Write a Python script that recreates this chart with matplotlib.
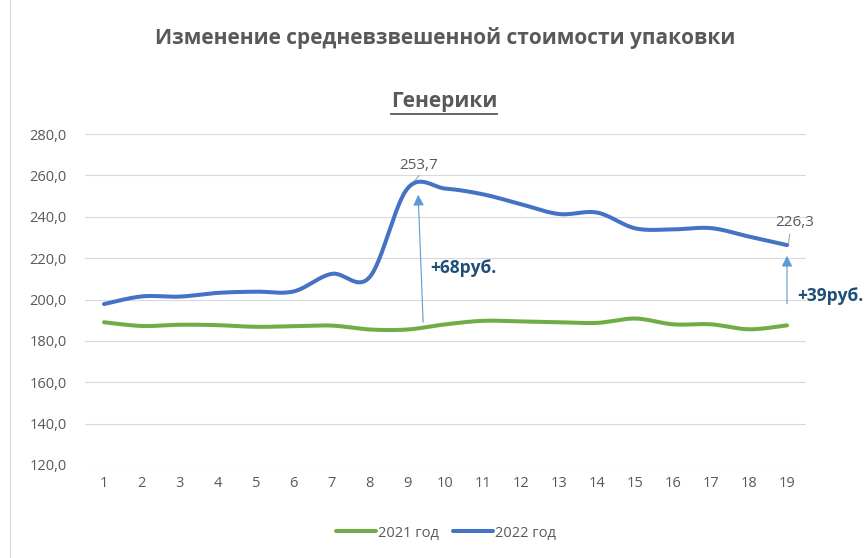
import numpy as np
import matplotlib
matplotlib.use("Agg")
import matplotlib.pyplot as plt
from matplotlib.lines import Line2D

plt.rcParams['font.family'] = ['Open Sans', 'DejaVu Sans']

months = list(range(1, 20))
v2021 = [189.0, 187.2, 187.8, 187.6, 186.8, 187.1, 187.4, 185.5, 185.5, 188.0,
         189.7, 189.4, 189.0, 188.7, 190.8, 188.0, 188.0, 185.6, 187.5]
v2022 = [197.8, 201.5, 201.4, 203.2, 203.8, 203.9, 212.4, 210.8, 253.7, 253.6,
         250.8, 246.0, 241.3, 242.0, 234.4, 233.9, 234.5, 230.4, 226.3]
series_labels = ['2021 год', '2022 год']
yticks = [120, 140, 160, 180, 200, 220, 240, 260, 280]
title = 'Изменение средневзвешенной стоимости упаковки'
subtitle = 'Генерики'
diff_labels = ['+68руб.', '+39руб.']

GREEN = '#70AD47'
BLUE = '#4472C4'
GRAY = '#595959'
ARROW = '#5B9BD5'
DARKBLUE = '#1F4E79'


def smooth(xs, ys, n=30):
    xs = np.asarray(xs, float)
    ys = np.asarray(ys, float)
    ox, oy = [], []
    m = len(xs)
    t = np.linspace(0, 1, n)
    for i in range(m - 1):
        p0x, p0y = (xs[i - 1], ys[i - 1]) if i > 0 else (xs[i], ys[i])
        p3x, p3y = (xs[i + 2], ys[i + 2]) if i + 2 < m else (xs[i + 1], ys[i + 1])
        c1x = xs[i] + (xs[i + 1] - p0x) / 6
        c1y = ys[i] + (ys[i + 1] - p0y) / 6
        c2x = xs[i + 1] - (p3x - xs[i]) / 6
        c2y = ys[i + 1] - (p3y - ys[i]) / 6
        bx = ((1 - t) ** 3) * xs[i] + 3 * ((1 - t) ** 2) * t * c1x + 3 * (1 - t) * t ** 2 * c2x + t ** 3 * xs[i + 1]
        by = ((1 - t) ** 3) * ys[i] + 3 * ((1 - t) ** 2) * t * c1y + 3 * (1 - t) * t ** 2 * c2y + t ** 3 * ys[i + 1]
        ox.extend(bx if i == 0 else bx[1:])
        oy.extend(by if i == 0 else by[1:])
    return np.array(ox), np.array(oy)


fig = plt.figure(figsize=(8.66, 5.58), dpi=100)
ax = fig.add_axes([85 / 866, 1 - 465 / 558, (806 - 85) / 866, (465 - 134) / 558])

sx, sy = smooth(months, v2021)
ax.plot(sx, sy, color=GREEN, lw=2.9, solid_capstyle='round', label=series_labels[0], zorder=3)
sx, sy = smooth(months, v2022)
ax.plot(sx, sy, color=BLUE, lw=2.9, solid_capstyle='round', label=series_labels[1], zorder=3)

ax.set_xlim(0.5, 19.5)
ax.set_ylim(120, 280)
ax.set_xticks(months)
ax.set_xticklabels([str(m) for m in months])
ax.set_yticks(yticks)
ax.set_yticklabels([f'{v:.1f}'.replace('.', ',') for v in yticks])
ax.tick_params(axis='both', length=0, labelsize=10.5, colors=GRAY)
ax.tick_params(axis='y', pad=13)
ax.tick_params(axis='x', pad=8)
ax.grid(axis='y', color='#D9D9D9', lw=0.8)
ax.set_axisbelow(True)
for s in ax.spines.values():
    s.set_visible(False)

# data labels
ax.text(9.28, 265.0, f'{v2022[8]:.1f}'.replace('.', ','), ha='center', va='center',
        fontsize=11, color=GRAY)
ax.plot([9.30, 9.06], [259.8, 254.6], color='#A6A6A6', lw=0.8)
ax.text(19.19, 237.2, f'{v2022[18]:.1f}'.replace('.', ','), ha='center', va='center',
        fontsize=11, color=GRAY, clip_on=False)
ax.plot([19.07, 19.04], [231.6, 227.0], color='#A6A6A6', lw=0.8, clip_on=False)

# difference arrows
ax.annotate('', xy=(9.28, 250.6), xytext=(9.41, v2021[8] + 3.5),
            arrowprops=dict(arrowstyle='-|>', color=ARROW, lw=0.8, mutation_scale=16,
                            shrinkA=0, shrinkB=0))
ax.annotate('', xy=(19.0, 221.1), xytext=(19.0, v2021[18] + 10.4),
            arrowprops=dict(arrowstyle='-|>', color=ARROW, lw=0.8, mutation_scale=16,
                            shrinkA=0, shrinkB=0))
ax.text(9.59, 215.3, diff_labels[0], ha='left', va='center', fontsize=12.5,
        fontweight='bold', color=DARKBLUE)
ax.text(19.27, 201.7, diff_labels[1], ha='left', va='center', fontsize=12.5,
        fontweight='bold', color=DARKBLUE, clip_on=False)

# titles
fig.text(445 / 866, 1 - 38 / 558, title, ha='center', va='center', fontsize=15,
         fontweight='bold', color=GRAY)
st = fig.text(444 / 866, 1 - 101 / 558, subtitle, ha='center', va='center', fontsize=15,
              fontweight='bold', color=GRAY)
fig.canvas.draw()
bb = st.get_window_extent().transformed(fig.transFigure.inverted())
fig.add_artist(Line2D([bb.x0, bb.x1], [1 - 114 / 558, 1 - 114 / 558], color=GRAY, lw=1.3,
                      transform=fig.transFigure))

# left border
fig.add_artist(Line2D([10 / 866, 10 / 866], [0, 1], color='#D9D9D9', lw=0.8,
                      transform=fig.transFigure))

leg = fig.legend(loc='center', bbox_to_anchor=(446 / 866, 1 - 533 / 558), ncol=2,
                 frameon=False, fontsize=10.5, handlelength=2.7, columnspacing=1.0,
                 handletextpad=0.15)
for t in leg.get_texts():
    t.set_color(GRAY)

fig.savefig('out.png', dpi=100)
